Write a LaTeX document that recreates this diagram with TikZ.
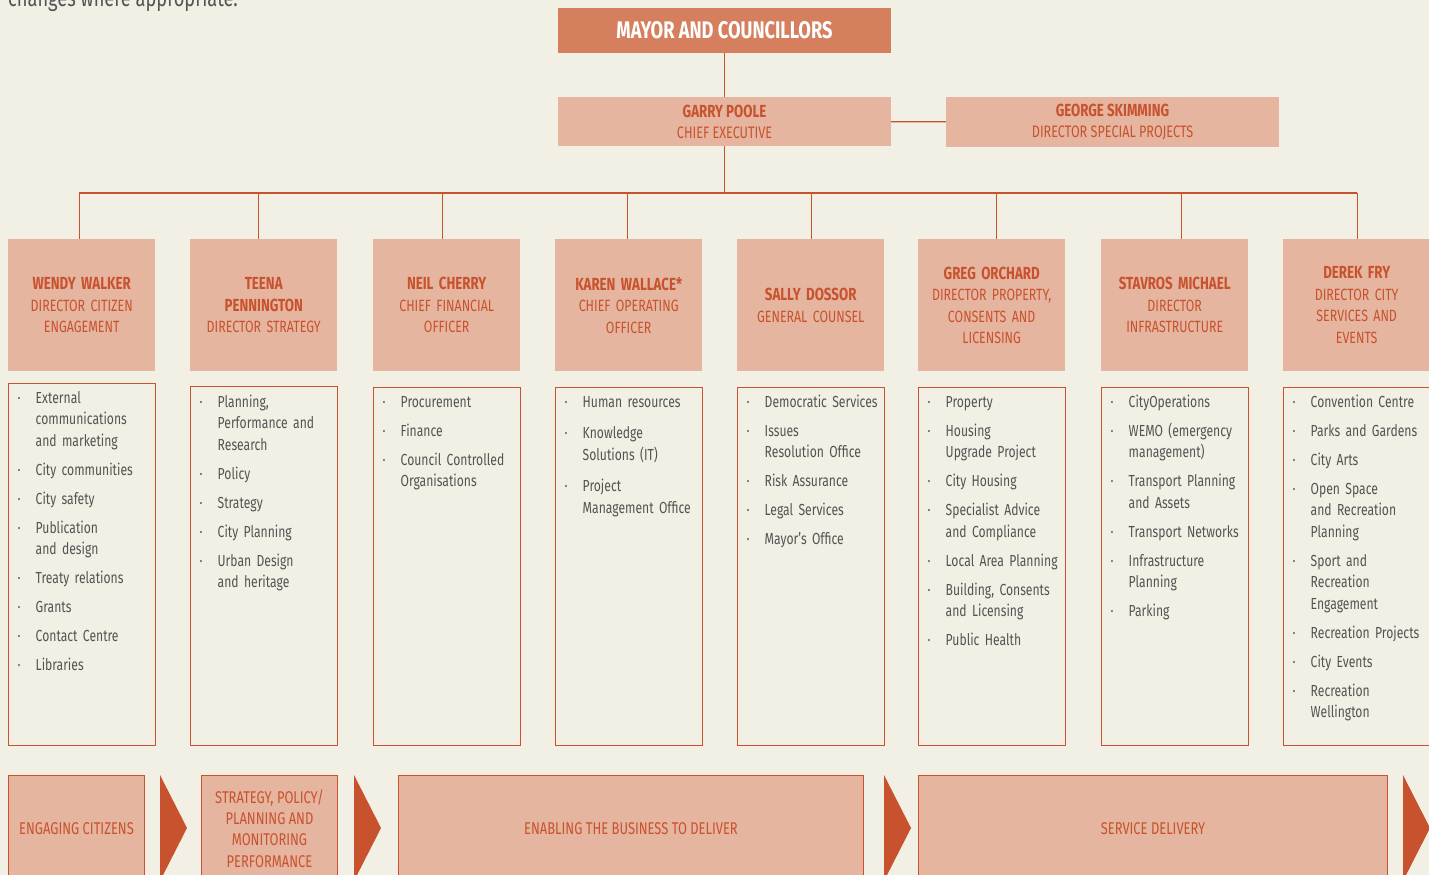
\documentclass[tikz,border=0pt]{standalone}
\usepackage{fontspec}
\setmainfont[FakeStretch=0.76]{Fira Sans}
\usetikzlibrary{positioning}
\definecolor{paper}{HTML}{F2F0E4}
\definecolor{rust}{HTML}{C8522E}
\definecolor{mayorfill}{HTML}{D67F5E}
\definecolor{pinkfill}{HTML}{E5B5A0}
\definecolor{itemgray}{HTML}{535353}
\newcommand{\duty}[1]{\hangindent=18pt\hangafter=1\noindent\makebox[18pt][l]{\textperiodcentered}#1\par}
\newcommand{\who}[1]{{\fontsize{17.5}{21.5}\selectfont\bfseries #1}}
\tikzset{
  link/.style={draw=rust, line width=1.3pt},
  council/.style={fill=mayorfill, text=white, minimum width=333pt, minimum height=45pt, inner sep=0pt, font=\fontsize{24}{28}\selectfont\bfseries},
  chief/.style={fill=pinkfill, text=rust, minimum width=333pt, minimum height=49pt, inner sep=0pt, align=center, font=\fontsize{16.6}{21}\selectfont},
  head/.style={fill=pinkfill, text=rust, anchor=north west, minimum width=147pt, minimum height=132pt, inner sep=0pt, text width=145pt, align=center, font=\fontsize{16.3}{21.5}\selectfont},
  dutybox/.style={draw=rust, line width=1.2pt, fill=paper, anchor=north west, minimum width=147pt, minimum height=358pt, inner sep=0pt},
  dutylist/.style={anchor=base west, inner sep=0pt, text width=150pt, align=left, text=itemgray, font=\fontsize{16}{21.5}\selectfont\setlength{\parskip}{7.5pt}},
  stage/.style={draw=rust, line width=1pt, fill=pinkfill, text=rust, anchor=north west, minimum height=106pt, inner sep=0pt, align=center, font=\fontsize{17}{21.3}\selectfont},
}
\begin{document}
\begin{tikzpicture}[x=1pt, y=-1pt]
\useasboundingbox (0,0) rectangle (1429,875);
\clip (0,0) rectangle (1429,875);
\fill[paper] (0,0) rectangle (1429,875);
\node[anchor=base west, inner sep=0pt, text=itemgray, font=\fontsize{24}{28}\selectfont] (intro) at (8,7) {changes where appropriate.};

\node[council] (mayor) at (724.5,30.5) {MAYOR AND COUNCILLORS};
\node[chief] (garry) at (724.5,121.5) {\who{GARRY POOLE}\\CHIEF EXECUTIVE};
\node[chief, minimum height=50pt] (george) at (1112.5,122) {\who{GEORGE SKIMMING}\\DIRECTOR SPECIAL PROJECTS};
\draw[link] (mayor) -- (garry);
\draw[link] (garry) -- (george);

% directors
\node[head] (h1) at (8,239) {\who{WENDY WALKER}\\DIRECTOR CITIZEN\\ENGAGEMENT};
\node[head] (h2) at (190,239) {\who{TEENA}\\\who{PENNINGTON}\\DIRECTOR STRATEGY};
\node[head] (h3) at (373,239) {\who{NEIL CHERRY}\\CHIEF FINANCIAL\\OFFICER};
\node[head] (h4) at (555,239) {\who{KAREN WALLACE*}\\CHIEF OPERATING\\OFFICER};
\node[head] (h5) at (737,239) {\who{SALLY DOSSOR}\\GENERAL COUNSEL};
\node[head] (h6) at (918,239) {\who{GREG ORCHARD}\\DIRECTOR PROPERTY,\\CONSENTS AND\\LICENSING};
\node[head] (h7) at (1101,239) {\who{STAVROS MICHAEL}\\DIRECTOR\\INFRASTRUCTURE};
\node[head] (h8) at (1283,239) {\who{DEREK FRY}\\DIRECTOR CITY\\SERVICES AND\\EVENTS};

\coordinate (bus) at (724.5,193);
\draw[link] (garry) -- (bus);
\draw[link] ([xshift=-2.5pt]h1.north |- bus) -- ([xshift=0.5pt]h8.north |- bus);
\foreach \i/\dx in {1/-2.5,2/-5.5,3/-4.5,4/-1.5,5/0.5,6/4.5,7/6.5,8/0.5}
  \draw[link] ([xshift=\dx pt]h\i.north |- bus) -- ([xshift=\dx pt]h\i.north);

% portfolios
\node[dutybox, minimum height=362pt] (d1) at (8,383) {};
\node[dutybox, minimum height=359pt] (d2) at (190,386) {};
\node[dutybox] (d3) at (373,387) {};
\node[dutybox] (d4) at (555,387) {};
\node[dutybox] (d5) at (737,387) {};
\node[dutybox] (d6) at (918,387) {};
\node[dutybox] (d7) at (1101,387) {};
\node[dutybox] (d8) at (1283,387) {};

\node[dutylist] (l1) at ([xshift=9.5pt,yshift=-20pt]d1.north west) {\duty{External\newline communications\newline and marketing}\duty{City communities}\duty{City safety}\duty{Publication\newline and design}\duty{Treaty relations}\duty{Grants}\duty{Contact Centre}\duty{Libraries}};
\node[dutylist] (l2) at ([xshift=9.5pt,yshift=-21pt]d2.north west) {\duty{Planning,\newline Performance and\newline Research}\duty{Policy}\duty{Strategy}\duty{City Planning}\duty{Urban Design\newline and heritage}};
\node[dutylist] (l3) at ([xshift=9.5pt,yshift=-20pt]d3.north west) {\duty{Procurement}\duty{Finance}\duty{Council Controlled\newline Organisations}};
\node[dutylist] (l4) at ([xshift=9.5pt,yshift=-20pt]d4.north west) {\setlength{\parskip}{10pt}\duty{Human resources}\duty{Knowledge\newline Solutions (IT)}\duty{Project\newline Management Office}};
\node[dutylist] (l5) at ([xshift=9.5pt,yshift=-20pt]d5.north west) {\duty{Democratic Services}\duty{Issues\newline Resolution Office}\duty{Risk Assurance}\duty{Legal Services}\duty{Mayor’s Office}};
\node[dutylist] (l6) at ([xshift=9.5pt,yshift=-20pt]d6.north west) {\duty{Property}\duty{Housing\newline Upgrade Project}\duty{City Housing}\duty{Specialist Advice\newline and Compliance}\duty{Local Area Planning}\duty{Building, Consents\newline and Licensing}\duty{Public Health}};
\node[dutylist] (l7) at ([xshift=9.5pt,yshift=-20pt]d7.north west) {\duty{CityOperations}\duty{WEMO (emergency\newline management)}\duty{Transport Planning\newline and Assets}\duty{Transport Networks}\duty{Infrastructure\newline Planning}\duty{Parking}};
\node[dutylist] (l8) at ([xshift=9.5pt,yshift=-20pt]d8.north west) {\duty{Convention Centre}\duty{Parks and Gardens}\duty{City Arts}\duty{Open Space\newline and Recreation\newline Planning}\duty{Sport and\newline Recreation\newline Engagement}\duty{Recreation Projects}\duty{City Events}\duty{Recreation\newline Wellington}};

% value chain
\node[stage, minimum width=136pt] (s1) at (8,775) {ENGAGING CITIZENS};
\node[stage, minimum width=136pt] (s2) at (201,775) {STRATEGY, POLICY/\\PLANNING AND\\MONITORING\\PERFORMANCE};
\node[stage, minimum width=465pt] (s3) at (398,775) {ENABLING THE BUSINESS TO DELIVER};
\node[stage, minimum width=469pt] (s4) at (918,775) {SERVICE DELIVERY};
\fill[rust] (160,775) -- (187,828) -- (160,881) -- cycle;
\fill[rust] (354,775) -- (381,828) -- (354,881) -- cycle;
\fill[rust] (884,775) -- (911,828) -- (884,881) -- cycle;
\fill[rust] (1403,775) -- (1430,828) -- (1403,881) -- cycle;
\end{tikzpicture}
\end{document}
